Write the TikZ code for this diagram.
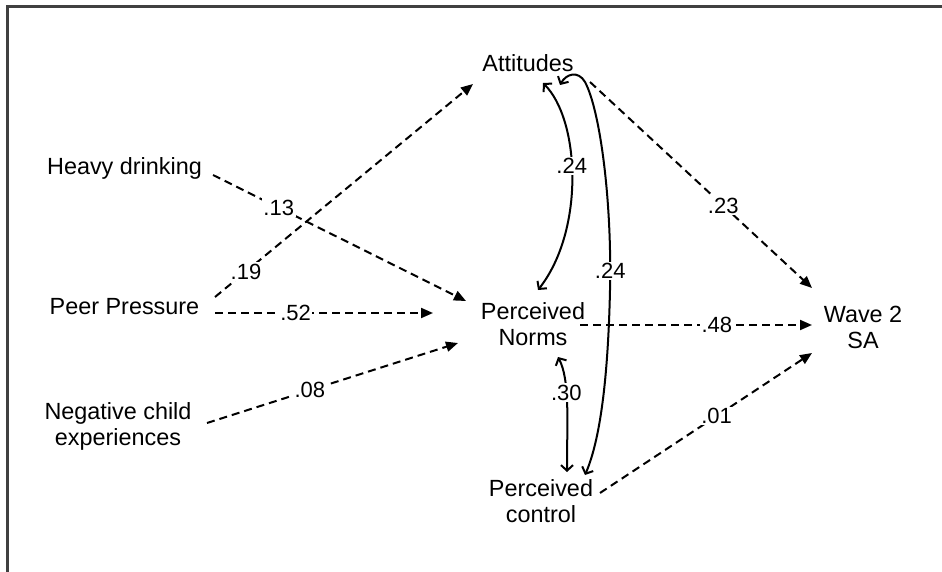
\documentclass[tikz,border=0pt]{standalone}
\usepackage{fontspec}
\setmainfont{Liberation Sans}
\usetikzlibrary{arrows.meta}
\tikzset{
  txt/.style={font=\fontsize{23.4}{26}\selectfont, inner sep=0pt, align=center},
  coef/.style={font=\fontsize{22}{24}\selectfont, fill=white, inner sep=1.5pt},
  dasharrow/.style={line width=2pt, dash pattern=on 8pt off 5pt, -{Triangle[length=12pt,width=10pt]}},
  curvearrow/.style={line width=2pt, {Straight Barb[length=5.5pt,width=12pt]}-{Straight Barb[length=5.5pt,width=12pt]}},
  frame/.style={line width=2.2pt, draw=black!75},
}
\begin{document}
\begin{tikzpicture}[x=1pt,y=-1pt]
\useasboundingbox (0,0) rectangle (942,572);
\draw[frame] (7.5,572) -- (7.5,6.5) -- (942,6.5);

\node[txt] (hd) at (124.5,168) {Heavy drinking};
\node[txt] (pp) at (124.5,307) {Peer Pressure};
\node[txt] (nc) at (118,426) {Negative child\\experiences};
\node[txt] (att) at (528,63) {Attitudes};
\node[txt] (pn) at (533,324) {Perceived\\Norms};
\node[txt] (pc) at (541,501) {Perceived\\control};
\node[txt] (w2) at (863,327) {Wave 2\\SA};

\draw[dasharrow] ([shift={(88.5,7)}]hd.center) -- node[coef,pos=0.26]{.13} ([shift={(-67,-23)}]pn.center);
\draw[dasharrow] ([shift={(90.5,-10)}]pp.center) -- node[coef,pos=0.12]{.19} ([shift={(-55,21)}]att.center);
\draw[dasharrow] ([shift={(90.5,6)}]pp.center) -- node[coef,pos=0.37]{.52} ([shift={(-100,-11)}]pn.center);
\draw[dasharrow] ([shift={(89,-3)}]nc.center) -- node[coef,pos=0.41]{.08} ([shift={(-75,19)}]pn.center);
\draw[dasharrow] ([shift={(47,1)}]pn.center) -- node[coef,pos=0.59]{.48} ([shift={(-51,-2)}]w2.center);
\draw[dasharrow] ([shift={(62,19)}]att.center) -- node[coef,pos=0.6]{.23} ([shift={(-51,-39)}]w2.center);
\draw[dasharrow] ([shift={(59,-8)}]pc.center) -- node[coef,pos=0.55]{.01} ([shift={(-51,26)}]w2.center);

\draw[curvearrow] ([shift={(15,20)}]att.center) .. controls (580,120) and (585,230) .. node[coef,pos=0.45]{.24} ([shift={(5,-34)}]pn.center);
\draw[curvearrow] ([shift={(32,22)}]att.center) .. controls (566,74) and (578,70) .. (585,82)
  .. controls (600,110) and (612,200) .. node[coef,pos=0.93]{.24} (610,290)
  .. controls (608,380) and (600,440) .. ([shift={(44,-26)}]pc.center);
\draw[curvearrow] ([shift={(25,33)}]pn.center) .. controls (570,380) and (567,420) .. node[coef,pos=0.4]{.30} ([shift={(26,-29)}]pc.center);
\end{tikzpicture}
\end{document}
